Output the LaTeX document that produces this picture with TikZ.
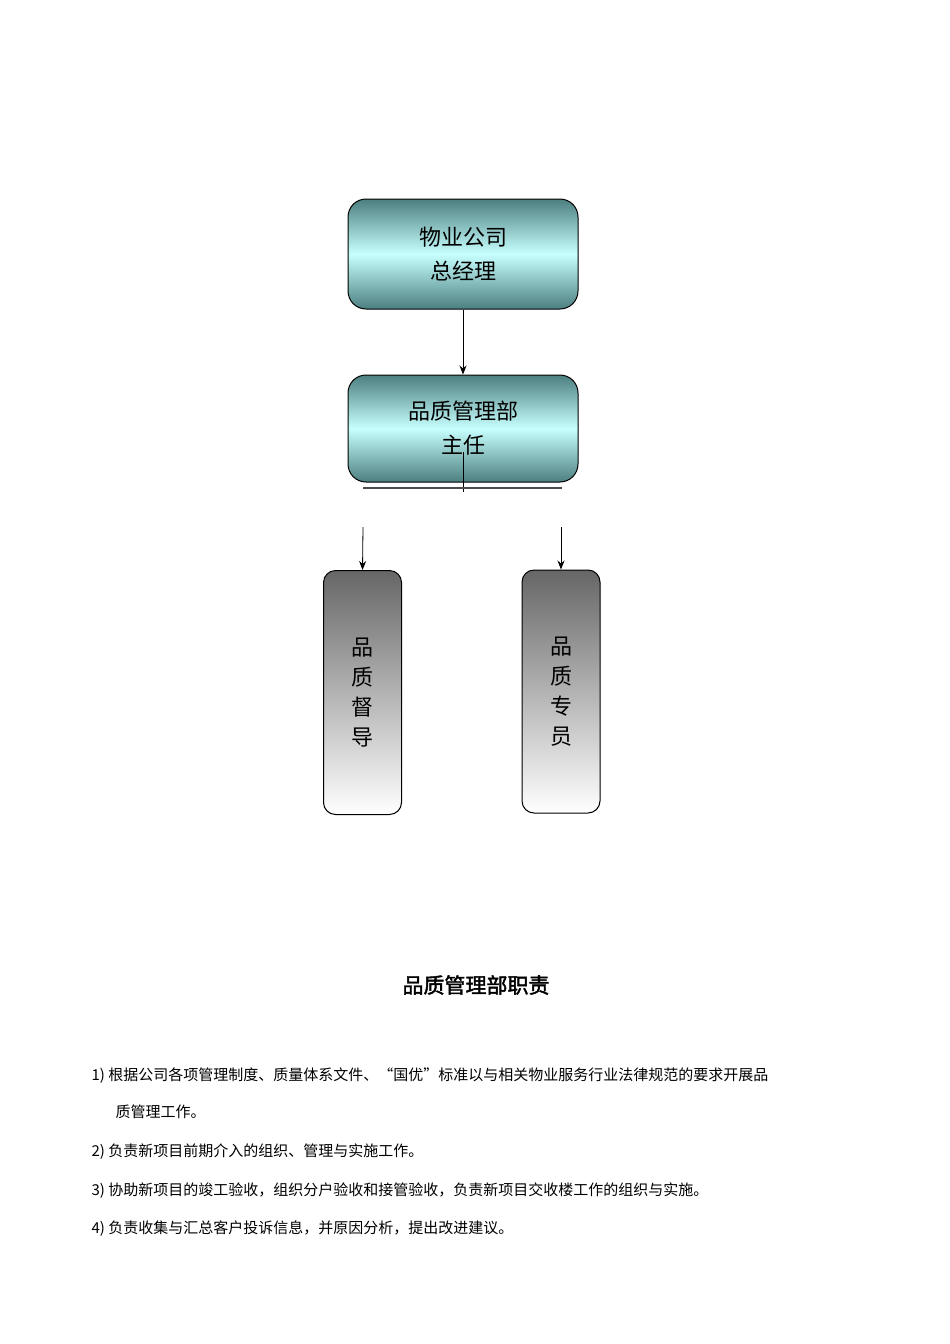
\documentclass[tikz,border=0pt]{standalone}
\usepackage{fontspec}
\usetikzlibrary{arrows.meta}
\setmainfont{Noto Sans CJK SC}
\newfontfamily\cjkb[FakeBold=2]{Noto Sans CJK SC}
\begin{document}
\begin{tikzpicture}[x=1pt,y=-1pt,
  topbox/.style={draw=black,line width=1pt,rounded corners=18pt,minimum width=230pt,minimum height=110pt,align=center,font=\fontsize{22}{34}\selectfont,
    top color=teal!40!gray, bottom color=teal!40!gray, middle color=cyan!22, shading angle=0},
  vbox/.style={draw=black,line width=1pt,rounded corners=12pt,minimum width=78pt,minimum height=244pt,align=center,font=\fontsize{22}{30}\selectfont,
    top color=black!60, bottom color=white},
  arr/.style={-{Stealth[length=9pt,width=7pt]},line width=0.8pt},
  item/.style={anchor=west,font=\fontsize{15}{15}\selectfont}]
\useasboundingbox (0,0) rectangle (950,1344);
\node[topbox] (gm) at (463,254) {物业公司\\总经理};
\node[topbox,minimum height=107pt] (dir) at (463,428.5) {品质管理部\\主任};
\draw[arr] (gm.south) -- (dir.north);
\coordinate (v1) at (463,452);
\coordinate (v2) at (463,492);
\draw[line width=0.8pt] (v1) -- (v2);
\coordinate (h1) at (363,488);
\coordinate (h2) at (562,488);
\draw[line width=1.2pt,black!70] (h1) -- (h2);
\node[vbox] (sup) at (362.5,692.5) {品\\质\\督\\导};
\node[vbox,minimum height=243pt] (spec) at (561,691.5) {品\\质\\专\\员};
\coordinate (a1) at (363,527);
\coordinate (a2) at (561,527);
\draw[arr] (a1) -- (sup.north);
\draw[arr] (a2) -- (spec.north);
\node[font=\fontsize{21}{21}\selectfont\cjkb] (title) at (476,985) {品质管理部职责};
\node[item] (i1) at (88,1076) {1) 根据公司各项管理制度、质量体系文件、“国优”标准以与相关物业服务行业法律规范的要求开展品};
\node[item] (i1b) at (112,1112) {质管理工作。};
\node[item] (i2) at (88,1152) {2) 负责新项目前期介入的组织、管理与实施工作。};
\node[item] (i3) at (88,1191) {3) 协助新项目的竣工验收，组织分户验收和接管验收，负责新项目交收楼工作的组织与实施。};
\node[item] (i4) at (88,1229) {4) 负责收集与汇总客户投诉信息，并原因分析，提出改进建议。};
\end{tikzpicture}
\end{document}
